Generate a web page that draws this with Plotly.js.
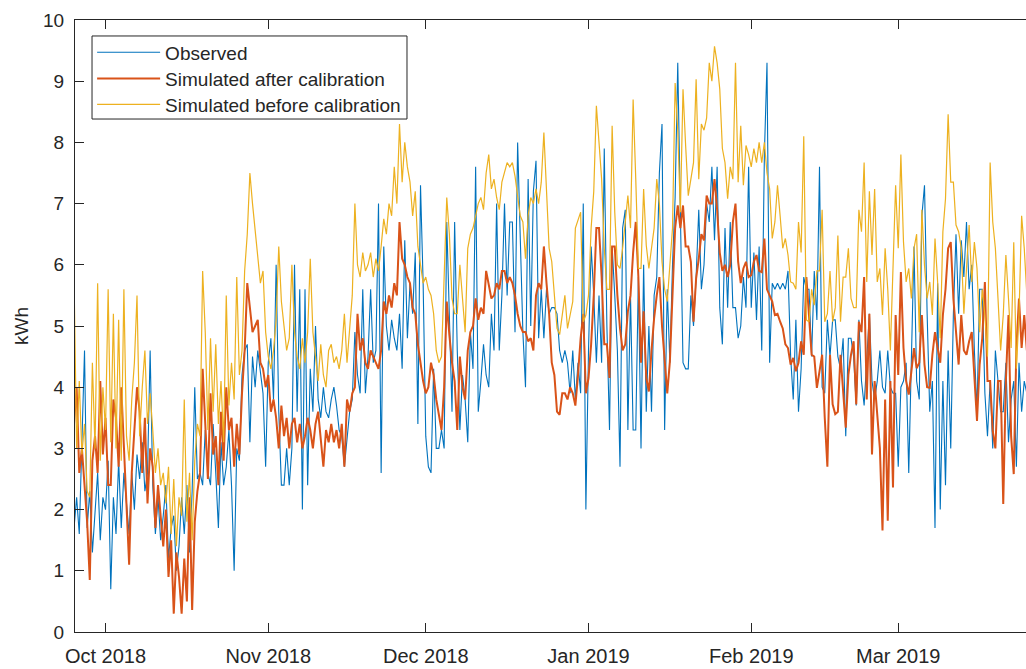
<!DOCTYPE html>
<html>
<head>
<meta charset="utf-8">
<script src="https://cdn.plot.ly/plotly-3.0.1.min.js"></script>
<style>
  html, body { margin: 0; padding: 0; background: #ffffff; overflow: hidden; }
  #chart { width: 1026px; height: 669px; }
</style>
</head>
<body>
<div id="chart"></div>
<script>
// Time grid: readings every 12 hours starting 25 Sep 2018 00:00
const seriesStart = [2018, 8, 25, 0];   // year, month (0-based), day, hour
const stepHours = 12;

// Observed (kWh), two readings per day, grouped by month
const observed = [
  // Sep 25 - Sep 30
  1.7,2.2, 1.6,3.0, 4.6,1.7, 2.3,1.3, 2.0,2.6, 1.5,2.2,
  // Oct
  2.0,2.8, 0.7,2.2, 1.6,2.8, 1.7,2.6, 2.1,1.6, 2.6,2.0, 2.9,2.5, 3.1,2.3, 2.6,4.6, 2.4,1.6,
  2.2,1.5, 1.9,2.4, 1.2,1.7, 1.9,1.0, 1.4,2.2, 1.6,2.4, 1.3,2.3, 4.0,2.5, 2.6,2.4, 3.3,2.6,
  2.4,3.4, 2.6,1.7, 3.1,2.4, 2.7,3.3, 2.4,1.0, 3.0,2.8, 4.2,4.6, 4.7,3.1, 4.5,4.0, 4.6,4.2,
  3.9,2.7,
  // Nov
  4.4,4.8, 3.8,6.0, 3.6,2.4, 2.4,3.0, 2.4,3.0, 6.0,3.6, 5.6,2.0, 5.6,2.4, 4.3,3.6, 5.0,3.8,
  3.5,4.0, 3.6,3.5, 3.8,4.0, 3.7,3.3, 3.2,2.7, 3.2,3.6, 3.8,4.9, 4.2,3.9, 5.6,3.9, 4.5,5.6,
  4.4,4.6, 7.0,2.6, 6.3,5.0, 4.6,5.1, 4.8,4.6, 5.2,4.3, 6.4,4.8, 5.7,5.2, 6.2,3.4, 7.3,5.7,
  // Dec
  3.2,2.7, 2.6,4.3, 3.0,3.0, 3.3,3.0, 6.7,5.2, 3.6,6.7, 4.6,3.3, 4.2,3.8, 3.1,4.9, 4.3,7.6,
  3.6,4.1, 4.7,4.2, 4.0,5.2, 4.6,7.0, 4.6,5.5, 7.0,5.5, 6.7,6.7, 4.9,8.0, 6.3,4.9, 4.0,7.4,
  5.0,7.2, 7.7,4.8, 5.6,4.8, 5.6,5.2, 5.3,5.3, 5.2,4.6, 4.4,4.6, 4.4,3.9, 4.6,3.8, 4.4,3.9,
  7.0,2.0,
  // Jan
  4.6,6.3, 5.5,4.4, 5.5,4.4, 7.9,5.0, 3.3,6.3, 5.5,4.6, 2.7,6.6, 6.9,3.3, 5.5,3.3, 3.3,5.8,
  3.0,6.0, 3.6,5.0, 3.6,5.5, 5.8,7.5, 8.3,3.3, 5.6,4.4, 6.0,7.1, 9.3,7.1, 4.4,4.3, 4.3,5.5,
  5.0,5.8, 6.9,5.6, 6.0,7.0, 6.7,7.6, 6.4,7.6, 5.3,4.7, 6.6,5.3, 6.7,5.3, 5.3,4.8, 5.0,5.8,
  5.3,7.6,
  // Feb
  5.3,6.2, 5.1,6.3, 4.6,7.8, 9.3,4.4, 5.7,5.6, 5.7,5.6, 5.7,5.6, 5.9,4.5, 3.8,5.1, 3.6,4.3,
  5.8,5.6, 5.6,4.5, 5.9,5.1, 7.6,4.0, 3.9,5.1, 4.5,5.1, 5.1,4.5, 4.3,4.8, 3.2,4.8, 4.8,4.5,
  3.7,5.1, 4.1,3.7, 4.5,5.2, 4.1,3.8, 4.1,4.6, 4.0,3.9, 4.6,4.0, 3.9,3.9,
  // Mar 1 - Mar 25
  2.7,4.0, 4.1,4.4, 2.6,4.6, 6.3,4.1, 3.8,6.8, 7.3,5.2, 3.6,4.1, 1.7,5.7, 2.0,4.1, 2.4,4.6,
  3.0,5.2, 6.5,5.2, 6.4,5.8, 6.7,5.6, 6.0,4.6, 3.6,5.6, 5.6,3.9, 3.2,4.1, 3.0,4.6, 4.1,3.6,
  3.6,4.4, 3.1,3.8, 4.1,2.7, 4.4,3.6, 4.1,3.9
];

// Simulated after calibration (kWh)
const simAfter = [
  // Sep 25 - Sep 30
  3.4,4.0, 2.6,3.0, 2.4,1.8, 0.85,2.8, 3.2,2.6, 4.1,2.9,
  // Oct
  3.5,2.4, 2.4,3.8, 3.5,2.7, 4.0,3.0, 1.9,1.1, 2.6,3.3, 4.0,3.6, 2.6,3.5, 2.1,3.0, 2.7,1.7,
  2.4,1.9, 1.4,2.0, 0.9,1.5, 0.3,1.3, 0.9,0.3, 1.2,0.5, 2.2,0.36, 1.8,2.3, 2.6,4.3, 3.3,2.5,
  3.9,2.9, 3.2,2.4, 3.6,2.8, 4.0,3.3, 3.5,2.7, 3.4,2.9, 3.9,4.6, 5.7,5.3, 4.9,5.0, 5.1,4.4,
  4.3,4.0,
  // Nov
  4.2,3.6, 3.8,3.5, 3.0,3.7, 3.2,3.5, 3.0,3.4, 3.5,3.1, 3.4,3.0, 3.2,3.5, 3.3,3.0, 3.4,3.6,
  3.2,2.7, 3.3,3.1, 3.4,3.1, 3.3,3.0, 3.4,2.7, 3.8,3.6, 3.9,4.0, 5.2,4.6, 4.8,4.4, 4.3,4.6,
  4.5,4.4, 4.3,4.6, 5.4,5.2, 5.5,5.3, 5.7,5.5, 6.7,6.1, 6.0,5.8, 5.7,5.3, 5.2,4.7, 4.4,4.1,
  // Dec
  3.9,4.0, 4.4,4.2, 3.8,3.55, 3.3,4.0, 5.4,4.85, 4.4,4.1, 3.3,4.5, 4.0,3.8, 4.6,4.9, 5.0,5.45,
  5.1,5.3, 5.2,5.9, 5.7,5.45, 5.5,5.7, 5.6,5.9, 5.9,5.7, 5.8,5.7, 5.5,5.2, 5.0,4.9, 4.9,4.75,
  4.8,4.6, 5.5,5.7, 5.6,6.3, 5.7,5.2, 4.4,4.2, 3.6,3.55, 3.9,3.9, 3.8,4.0, 3.9,3.7, 4.2,4.8,
  5.2,3.9,
  // Jan
  4.15,4.7, 5.5,6.6, 6.6,5.8, 4.7,4.7, 4.15,6.3, 6.3,5.5, 4.96,4.6, 4.7,5.24, 5.5,6.2, 6.7,5.8,
  4.4,5.24, 4.15,3.93, 4.6,5.13, 5.5,5.8, 5.0,4.4, 3.9,4.42, 5.5,6.6, 6.97,6.6, 6.97,6.3, 6.3,6.05,
  5.07,5.78, 6.1,6.5, 6.4,7.13, 7.0,7.0, 7.4,6.9, 6.2,5.9, 6.0,5.8, 6.0,6.7, 7.0,6.05, 5.7,5.94,
  6.05,5.8,
  // Feb
  5.83,6.05, 6.16,5.9, 5.88,6.43, 5.6,5.5, 5.4,5.18, 5.2,5.07, 4.96,4.7, 4.64,4.37, 4.48,4.26, 4.4,4.75,
  4.53,5.8, 5.07,4.53, 4.5,3.99, 4.26,4.53, 3.5,2.7, 4.53,3.72, 3.56,3.6, 4.53,3.99, 3.34,4.2, 4.53,4.75,
  3.72,5.07, 4.9,5.8, 3.8,5.2, 2.9,4.1, 3.6,3.0, 1.66,3.8, 1.82,4.1, 2.36,5.18,
  // Mar 1 - Mar 25
  4.2,5.88, 4.64,4.1, 3.88,4.3, 4.64,4.31, 4.4,5.18, 4.37,4.0, 3.99,4.53, 4.9,4.64, 4.4,5.18, 5.6,6.27,
  6.37,5.45, 4.9,4.37, 5.18,4.6, 4.53,4.75, 4.9,4.1, 3.45,4.37, 4.8,5.72, 4.1,4.1, 3.28,3.0, 4.1,4.1,
  2.09,4.1, 5.18,3.2, 2.58,4.64, 5.45,4.64, 5.18,4.6
];

// Simulated before calibration (kWh)
const simBefore = [
  // Sep 25 - Sep 30
  5.8,3.0, 4.1,2.9, 3.4,2.3, 2.2,4.4, 3.0,5.7, 2.8,4.0,
  // Oct
  3.3,5.6, 3.1,5.2, 3.0,5.1, 2.8,5.6, 3.2,2.8, 3.8,4.4, 5.5,3.2, 4.0,4.6, 3.4,3.9, 3.3,2.6,
  3.0,2.4, 2.6,2.1, 2.7,1.6, 2.5,1.4, 2.2,1.9, 3.8,1.8, 2.6,1.5, 2.8,3.4, 3.2,5.9, 4.9,3.3,
  4.8,3.6, 4.7,3.4, 4.1,3.1, 5.5,3.7, 4.4,3.8, 5.8,4.2, 4.6,5.9, 6.5,7.5, 7.0,6.6, 6.2,5.7,
  5.9,4.9,
  // Nov
  4.5,4.3, 4.6,5.1, 6.3,5.4, 5.0,4.6, 4.8,6.0, 4.9,4.5, 4.3,4.8, 4.4,4.9, 6.1,4.9, 4.5,4.1,
  4.7,4.2, 4.0,4.6, 4.7,4.4, 4.5,4.3, 4.6,5.2, 4.4,5.0, 5.5,7.0, 6.0,5.8, 6.2,5.9, 6.0,6.2,
  5.8,6.1, 5.9,6.3, 6.75,6.5, 7.0,6.8, 7.6,7.0, 8.3,7.35, 8.0,7.6, 7.35,6.8, 7.2,6.3, 6.0,5.7,
  // Dec
  5.8,5.6, 5.5,5.2, 4.6,4.4, 4.5,5.8, 7.1,6.5, 5.45,5.2, 5.2,6.0, 5.4,4.9, 6.27,6.5, 6.6,6.8,
  7.0,7.1, 6.9,7.5, 7.8,7.24, 7.4,7.1, 6.9,7.35, 7.5,7.67, 7.6,7.67, 7.45,7.1, 6.8,6.7, 6.1,6.8,
  7.1,7.0, 7.24,7.0, 7.35,8.16, 7.1,6.27, 6.05,5.5, 4.96,4.86, 5.18,5.5, 4.96,5.2, 5.4,6.6, 6.75,6.86,
  5.07,5.18,
  // Jan
  5.5,6.6, 7.2,8.6, 8.0,7.4, 6.27,5.6, 5.6,8.27, 6.86,6.0, 5.94,6.27, 6.7,7.13, 6.6,8.7, 7.4,5.94,
  5.94,7.24, 6.32,5.94, 6.27,6.6, 7.4,7.0, 6.05,5.6, 5.4,6.0, 6.6,8.97, 8.2,6.86, 8.87,7.95, 7.13,7.4,
  7.67,9.03, 7.4,8.3, 8.2,8.4, 9.3,9.0, 9.57,9.3, 8.87,7.9, 7.67,7.08, 7.6,7.4, 9.3,7.35, 8.27,7.3,
  7.95,7.8,
  // Feb
  7.6,7.9, 7.67,8.0, 7.67,8.0, 7.5,7.24, 6.43,6.7, 7.3,6.8, 6.27,6.43, 6.16,5.72, 5.7,5.6, 6.7,6.2,
  8.1,5.1, 5.07,5.6, 5.34,5.9, 5.9,6.9, 5.07,5.2, 5.9,5.07, 5.3,6.48, 5.07,5.8, 5.8,6.27, 5.45,5.3,
  5.3,6.9, 6.54,7.67, 5.72,7.2, 6.16,7.24, 5.72,5.94, 5.18,6.27, 5.6,4.6, 5.99,7.3,
  // Mar 1 - Mar 25
  6.27,7.8, 6.37,5.72, 5.94,5.45, 6.27,6.5, 4.9,6.9, 5.99,5.45, 5.72,5.18, 6.43,5.72, 4.8,6.54, 7.08,8.46,
  7.35,7.35, 6.65,6.54, 6.27,5.2, 5.94,6.65, 5.72,6.37, 5.94,4.9, 5.6,5.18, 4.5,7.67, 6.7,6.27, 5.45,4.6,
  5.18,6.16, 5.45,4.64, 6.37,4.3, 5.18,6.8, 6.27,5.5
];

const seriesNames = ['Observed', 'Simulated after calibration', 'Simulated before calibration'];
const seriesColors = ['#0072BD', '#D95319', '#EDB120'];

function pad(n) { return (n < 10 ? '0' : '') + n; }
function timeAt(i) {
  const t = new Date(Date.UTC(seriesStart[0], seriesStart[1], seriesStart[2], seriesStart[3]) + i * stepHours * 3600000);
  return t.getUTCFullYear() + '-' + pad(t.getUTCMonth() + 1) + '-' + pad(t.getUTCDate()) + ' ' + pad(t.getUTCHours()) + ':00';
}
function timesFor(values) { return values.map((_, i) => timeAt(i)); }

const axisColor = '#262626';
const fontFamily = '"Liberation Sans", Arial, Helvetica, sans-serif';

const traces = [
  { x: timesFor(observed), y: observed, name: seriesNames[0], legend: 'legend',
    type: 'scatter', mode: 'lines', line: { color: seriesColors[0], width: 1.1 } },
  { x: timesFor(simAfter), y: simAfter, name: seriesNames[1], legend: 'legend2',
    type: 'scatter', mode: 'lines', line: { color: seriesColors[1], width: 2 } },
  { x: timesFor(simBefore), y: simBefore, name: seriesNames[2], legend: 'legend3',
    type: 'scatter', mode: 'lines', line: { color: seriesColors[2], width: 1.2 } }
];

function legendRow(yPos) {
  return {
    x: 0.018, y: yPos, xanchor: 'left', yanchor: 'middle',
    bgcolor: 'rgba(0,0,0,0)', borderwidth: 0,
    font: { family: fontFamily, size: 19, color: axisColor },
    itemwidth: 63
  };
}

const layout = {
  width: 1026, height: 669,
  margin: { l: 75, r: 0, t: 20, b: 37 },
  paper_bgcolor: '#ffffff', plot_bgcolor: '#ffffff',
  font: { family: fontFamily, size: 19, color: axisColor },
  showlegend: true,
  legend: legendRow(0.947),
  legend2: legendRow(0.904),
  legend3: legendRow(0.862),
  shapes: [{
    type: 'rect', xref: 'paper', yref: 'paper', layer: 'above',
    x0: 0.0179, x1: 0.3491, y0: 0.8382, y1: 0.9739,
    fillcolor: '#ffffff', line: { color: axisColor, width: 1 }
  }],
  xaxis: {
    type: 'date',
    range: ['2018-09-25 04:30', '2019-03-25 08:00'],
    tick0: '2018-10-01', dtick: 'M1', tickformat: '%b %Y',
    ticks: 'inside', ticklen: 9, tickcolor: axisColor, tickwidth: 1,
    showline: true, linecolor: axisColor, linewidth: 1, mirror: 'ticks',
    showgrid: false, zeroline: false,
    tickfont: { family: fontFamily, size: 20, color: axisColor },
    ticklabelstandoff: 6
  },
  yaxis: {
    range: [0, 10], tick0: 0, dtick: 1,
    ticks: 'inside', ticklen: 9, tickcolor: axisColor, tickwidth: 1,
    showline: true, linecolor: axisColor, linewidth: 1, mirror: false,
    showgrid: false, zeroline: false,
    tickfont: { family: fontFamily, size: 19, color: axisColor },
    ticklabelstandoff: 6,
    title: { text: 'kWh', font: { family: fontFamily, size: 19, color: axisColor }, standoff: 9 }
  }
};

Plotly.newPlot('chart', traces, layout, { displayModeBar: false, staticPlot: true });
</script>
</body>
</html>
